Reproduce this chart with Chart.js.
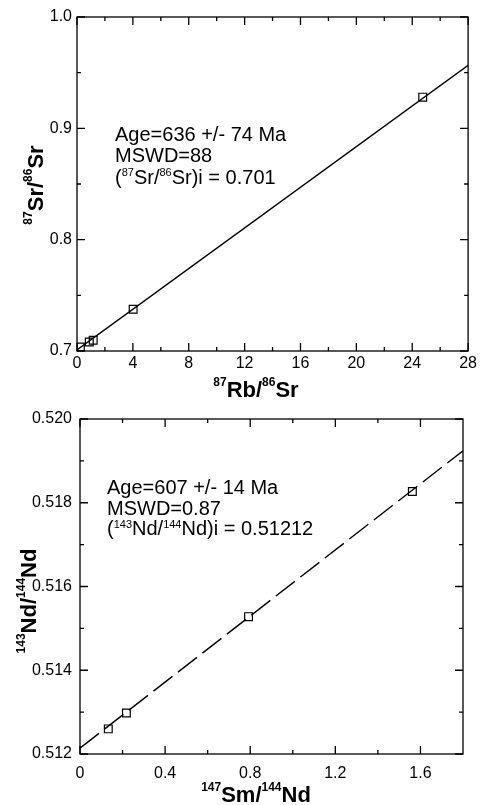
<!DOCTYPE html>
<html>
<head>
<meta charset="utf-8">
<script src="https://cdn.jsdelivr.net/npm/chart.js@4.4.1/dist/chart.umd.min.js"></script>
<style>
  html, body { margin: 0; padding: 0; background: #fff; }
  .panel { position: absolute; left: 0; width: 480px; }
  #top { top: 0; height: 400px; }
  #bottom { top: 400px; height: 405px; }
</style>
</head>
<body>
<div class="panel" id="top"><canvas id="srChart" width="480" height="400"></canvas></div>
<div class="panel" id="bottom"><canvas id="ndChart" width="480" height="405"></canvas></div>
<script>
  //---------------------------------------------------
  // Data  (^NN marks a superscript in the texts)
  //---------------------------------------------------

  // Rb-Sr isochron
  const srRb = [0.24, 0.88, 1.16, 4.02, 24.75];
  const srSr = [0.7036, 0.7081, 0.7096, 0.7375, 0.928];
  const srFitX = [0, 28];
  const srFitY = [0.7010, 0.9567];
  const srXTicks = [0, 4, 8, 12, 16, 20, 24, 28];
  const srXMinor = [2, 6, 10, 14, 18, 22, 26];
  const srYTicks = [0.7, 0.8, 0.9, 1.0];
  const srYMinor = [0.75, 0.85, 0.95];
  const srNotes = ["Age=636 +/- 74 Ma", "MSWD=88", "(^87Sr/^86Sr)i = 0.701"];

  // Sm-Nd isochron
  const ndSm = [0.133, 0.218, 0.792, 1.562];
  const ndNd = [0.51260, 0.51298, 0.51528, 0.51827];
  const ndFitX = [0, 1.8];
  const ndFitY = [0.51214, 0.51924];
  const ndXTicks = [0, 0.4, 0.8, 1.2, 1.6];
  const ndXMinor = [0.2, 0.6, 1.0, 1.4];
  const ndYTicks = [0.512, 0.514, 0.516, 0.518, 0.520];
  const ndYMinor = [0.513, 0.515, 0.517, 0.519];
  const ndNotes = ["Age=607 +/- 14 Ma", "MSWD=0.87", "(^143Nd/^144Nd)i = 0.51212"];

  const FONT = "'Liberation Sans', Arial, sans-serif";
  Chart.defaults.font.family = FONT;
  Chart.defaults.color = "#000";

  //---------------------------------------------------
  // Helpers
  //---------------------------------------------------

  function splitSup(str) {
    return str.split(/(\^\d+)/).filter(Boolean).map((s) =>
      s[0] === "^" ? { t: s.slice(1), sup: true } : { t: s, sup: false }
    );
  }

  function richText(ctx, str, x, y, o) {
    const parts = splitSup(str);
    const w = o.bold ? "bold " : "";
    const mainFont = w + o.size + "px " + FONT;
    const supFont = w + o.supSize + "px " + FONT;
    let total = 0;
    parts.forEach((p) => {
      ctx.font = p.sup ? supFont : mainFont;
      p.w = ctx.measureText(p.t).width;
      total += p.w;
    });
    let cx = o.center ? x - total / 2 : x;
    ctx.textAlign = "left";
    ctx.textBaseline = "alphabetic";
    ctx.fillStyle = "#000";
    parts.forEach((p) => {
      ctx.font = p.sup ? supFont : mainFont;
      ctx.fillText(p.t, cx, p.sup ? y - o.supRise : y);
      cx += p.w;
    });
  }

  // frame, inward ticks, axis titles and notes
  const isoPlugin = {
    id: "iso",
    afterDraw(chart, args, opt) {
      const ctx = chart.ctx;
      const a = chart.chartArea;
      const xs = chart.scales.x;
      const ys = chart.scales.y;
      ctx.save();
      ctx.strokeStyle = "#000";
      ctx.lineWidth = 1.3;
      ctx.strokeRect(a.left, a.top, a.right - a.left, a.bottom - a.top);

      ctx.beginPath();
      const tickX = (vals, len) => vals.forEach((v) => {
        const px = xs.getPixelForValue(v);
        ctx.moveTo(px, a.bottom); ctx.lineTo(px, a.bottom - len);
        ctx.moveTo(px, a.top); ctx.lineTo(px, a.top + len);
      });
      const tickY = (vals, len) => vals.forEach((v) => {
        const py = ys.getPixelForValue(v);
        ctx.moveTo(a.left, py); ctx.lineTo(a.left + len, py);
        ctx.moveTo(a.right, py); ctx.lineTo(a.right - len, py);
      });
      tickX(opt.xMajor, 8); tickX(opt.xMinor, 4);
      tickY(opt.yMajor, 8); tickY(opt.yMinor, 4);
      ctx.stroke();

      const title = { size: 22, supSize: 12, supRise: 11, bold: true, center: true };
      richText(ctx, opt.xTitle, opt.xTitlePos[0], opt.xTitlePos[1], title);

      ctx.save();
      ctx.translate(opt.yTitlePos[0], opt.yTitlePos[1]);
      ctx.rotate(-Math.PI / 2);
      richText(ctx, opt.yTitle, 0, 0, title);
      ctx.restore();

      const note = { size: 20, supSize: 11, supRise: 7.5, bold: false, center: false };
      opt.notes.forEach((line, i) => {
        richText(ctx, line, opt.notesX, opt.notesY[i], note);
      });
      ctx.restore();
    },
  };

  function makeIsochron(canvasId, s) {
    const points = s.px.map((x, i) => ({ x: x, y: s.py[i] }));
    const fit = s.fitX.map((x, i) => ({ x: x, y: s.fitY[i] }));

    return new Chart(document.getElementById(canvasId), {
      type: "scatter",
      data: {
        datasets: [
          {
            data: points,
            pointStyle: "rect",
            pointRadius: 5.5,
            pointBorderWidth: 1.2,
            borderColor: "#000",
            backgroundColor: "rgba(0,0,0,0)",
            showLine: false,
            order: 0,
          },
          {
            data: fit,
            showLine: true,
            pointRadius: 0,
            borderColor: "#000",
            borderWidth: 1.4,
            borderDash: s.dash,
            order: 1,
          },
        ],
      },
      options: {
        responsive: false,
        animation: false,
        events: [],
        layout: { padding: s.padding },
        plugins: {
          legend: { display: false },
          tooltip: { enabled: false },
          iso: s.deco,
        },
        scales: {
          x: {
            type: "linear",
            min: s.xMin,
            max: s.xMax,
            grid: { display: false, drawTicks: false },
            border: { display: false },
            afterBuildTicks: (sc) => { sc.ticks = s.xTicks.map((v) => ({ value: v })); },
            afterFit: (sc) => { sc.height = s.xHeight; },
            ticks: {
              padding: s.xPad,
              font: { size: 16 },
              maxRotation: 0,
              autoSkip: false,
              callback: s.xFmt,
            },
          },
          y: {
            type: "linear",
            min: s.yMin,
            max: s.yMax,
            grid: { display: false, drawTicks: false },
            border: { display: false },
            afterBuildTicks: (sc) => { sc.ticks = s.yTicks.map((v) => ({ value: v })); },
            afterFit: (sc) => { sc.width = s.yWidth; },
            ticks: {
              padding: s.yPad,
              font: { size: 16 },
              autoSkip: false,
              callback: s.yFmt,
            },
          },
        },
      },
      plugins: [isoPlugin],
    });
  }

  //---------------------------------------------------
  // Charts
  //---------------------------------------------------

  makeIsochron("srChart", {
    px: srRb, py: srSr, fitX: srFitX, fitY: srFitY, dash: [],
    xMin: 0, xMax: 28, yMin: 0.7, yMax: 1.0,
    xTicks: srXTicks, yTicks: srYTicks,
    xFmt: (v) => String(v), yFmt: (v) => v.toFixed(1),
    padding: { top: 17, right: 11, left: 0, bottom: 0 },
    xHeight: 49, yWidth: 77, xPad: 3, yPad: 5,
    deco: {
      xMajor: srXTicks, xMinor: srXMinor, yMajor: srYTicks, yMinor: srYMinor,
      xTitle: "^87Rb/^86Sr", xTitlePos: [256, 397],
      yTitle: "^87Sr/^86Sr", yTitlePos: [43, 185],
      notes: srNotes, notesX: 115, notesY: [141, 162, 183.5],
    },
  });

  makeIsochron("ndChart", {
    px: ndSm, py: ndNd, fitX: ndFitX, fitY: ndFitY, dash: [24, 7],
    xMin: 0, xMax: 1.8, yMin: 0.512, yMax: 0.520,
    xTicks: ndXTicks, yTicks: ndYTicks,
    xFmt: (v) => (v === 0 ? "0" : v.toFixed(1)), yFmt: (v) => v.toFixed(3),
    padding: { top: 19, right: 17, left: 0, bottom: 0 },
    xHeight: 51, yWidth: 80, xPad: 10, yPad: 8,
    deco: {
      xMajor: ndXTicks, xMinor: ndXMinor, yMajor: ndYTicks, yMinor: ndYMinor,
      xTitle: "^147Sm/^144Nd", xTitlePos: [256, 401.5],
      yTitle: "^143Nd/^144Nd", yTitlePos: [36, 201],
      notes: ndNotes, notesX: 107, notesY: [94, 114.5, 135],
    },
  });
</script>
</body>
</html>
